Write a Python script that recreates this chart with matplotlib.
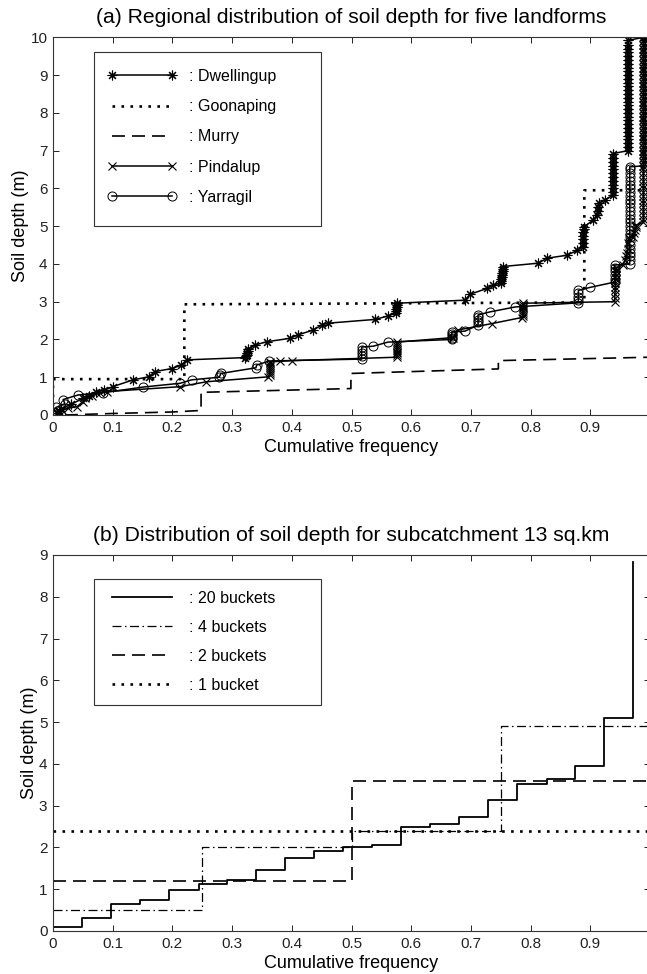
import numpy as np
import matplotlib
matplotlib.use('Agg')
import matplotlib.pyplot as plt
from matplotlib.patches import Rectangle
from matplotlib.legend_handler import HandlerLine2D

plt.rcParams['font.family'] = ['Liberation Sans', 'DejaVu Sans']

# (a) cumulative frequency / soil depth pairs for each landform
dw_x = [0.006, 0.010, 0.014, 0.030, 0.050, 0.060, 0.072, 0.085, 0.100, 0.134,
        0.160, 0.171, 0.199, 0.215, 0.224,
        0.322, 0.324, 0.325, 0.325, 0.326, 0.327, 0.338, 0.358, 0.397, 0.410,
        0.436, 0.450, 0.460, 0.539, 0.561,
        0.574, 0.575, 0.575, 0.576, 0.576, 0.577,
        0.690, 0.699, 0.727, 0.737,
        0.751, 0.751, 0.751, 0.752, 0.752, 0.752, 0.753, 0.753, 0.753,
        0.813, 0.827, 0.861, 0.878,
        0.887, 0.887, 0.888, 0.888, 0.888, 0.889, 0.889,
        0.905, 0.911, 0.913, 0.913, 0.914, 0.925,
        0.938, 0.938, 0.938, 0.938, 0.938, 0.938, 0.938, 0.938, 0.938, 0.938,
        0.938, 0.938,
        0.963, 0.963, 0.963, 0.963, 0.963, 0.963, 0.963, 0.963, 0.963, 0.963,
        0.963, 0.963, 0.963, 0.963, 0.963, 0.963, 0.963, 0.963, 0.963, 0.963,
        0.963, 0.963, 0.963, 0.963, 0.963, 0.963, 0.963, 0.963, 0.963, 0.963,
        0.990]
dw_y = [0.05, 0.10, 0.17, 0.28, 0.44, 0.50, 0.61, 0.65, 0.75, 0.93,
        1.01, 1.15, 1.23, 1.32, 1.46,
        1.52, 1.56, 1.60, 1.65, 1.70, 1.75, 1.85, 1.94, 2.03, 2.12,
        2.25, 2.38, 2.43, 2.53, 2.62,
        2.70, 2.75, 2.80, 2.85, 2.90, 2.96,
        3.04, 3.20, 3.35, 3.44,
        3.50, 3.55, 3.60, 3.65, 3.70, 3.75, 3.80, 3.86, 3.93,
        4.02, 4.15, 4.23, 4.36,
        4.45, 4.55, 4.65, 4.75, 4.85, 4.92, 4.98,
        5.16, 5.30, 5.40, 5.50, 5.60, 5.70,
        5.82, 5.90, 6.00, 6.10, 6.20, 6.30, 6.40, 6.50, 6.60, 6.70,
        6.80, 6.92,
        7.00, 7.10, 7.20, 7.30, 7.40, 7.50, 7.60, 7.70, 7.80, 7.90,
        8.00, 8.10, 8.20, 8.30, 8.40, 8.50, 8.60, 8.70, 8.80, 8.90,
        9.00, 9.10, 9.20, 9.30, 9.40, 9.50, 9.60, 9.70, 9.80, 9.92,
        10.0]

go_x = [0.0, 0.0, 0.22, 0.22, 0.89, 0.89, 1.0]
go_y = [0.0, 0.95, 0.95, 2.93, 2.98, 5.95, 5.95]

mu_x = [0.02, 0.10, 0.20, 0.248, 0.248, 0.499, 0.499, 0.746, 0.746, 1.0]
mu_y = [0.00, 0.04, 0.08, 0.12, 0.60, 0.70, 1.10, 1.22, 1.44, 1.53]

pi_x = [0.012, 0.012, 0.015, 0.025, 0.040, 0.050, 0.054, 0.065, 0.079, 0.090,
        0.213, 0.257, 0.360,
        0.363, 0.363, 0.363, 0.363, 0.363, 0.363, 0.363, 0.363,
        0.380, 0.400,
        0.576, 0.576, 0.576, 0.576, 0.576, 0.576, 0.576, 0.576, 0.576,
        0.670, 0.678, 0.735, 0.785,
        0.787, 0.787, 0.787, 0.787, 0.787, 0.787, 0.787, 0.787,
        0.941, 0.941, 0.941, 0.942, 0.942, 0.942, 0.943, 0.943, 0.943, 0.943,
        0.955, 0.958, 0.960, 0.962, 0.963, 0.963, 0.964,
        0.972, 0.974, 0.975, 0.977, 0.977,
        0.989, 0.989, 0.989, 0.989, 0.989, 0.989, 0.989, 0.989, 0.989, 0.989,
        0.989, 0.989, 0.989, 0.989, 0.989, 0.989, 0.989, 0.989, 0.989, 0.989,
        0.989, 0.989, 0.989, 0.989, 0.989, 0.989, 0.989, 0.989, 0.989, 0.989,
        0.989, 0.989, 0.989, 0.989, 0.989, 0.989, 0.989, 0.989, 0.989, 0.989,
        0.989, 0.989, 0.989, 0.989, 0.989, 0.989, 0.989, 0.989, 0.989, 0.989]
pi_y = [0.00, 0.05, 0.12, 0.18, 0.22, 0.35, 0.44, 0.50, 0.59, 0.62,
        0.75, 0.88, 1.01,
        1.05, 1.10, 1.16, 1.22, 1.28, 1.33, 1.37, 1.41,
        1.42, 1.44,
        1.53, 1.58, 1.63, 1.68, 1.73, 1.78, 1.83, 1.88, 1.93,
        2.05, 2.25, 2.42, 2.58,
        2.62, 2.67, 2.72, 2.77, 2.82, 2.87, 2.92, 2.96,
        3.00, 3.10, 3.20, 3.30, 3.40, 3.50, 3.60, 3.70, 3.80, 3.90,
        3.97, 4.10, 4.20, 4.30, 4.40, 4.55, 4.68,
        4.72, 4.82, 4.90, 4.97, 5.03,
        5.10, 5.20, 5.30, 5.40, 5.50, 5.60, 5.70, 5.80, 5.90, 6.00,
        6.10, 6.20, 6.30, 6.40, 6.50, 6.60, 6.70, 6.80, 6.90, 7.00,
        7.10, 7.20, 7.30, 7.40, 7.50, 7.60, 7.70, 7.80, 7.90, 8.00,
        8.10, 8.20, 8.30, 8.40, 8.50, 8.60, 8.70, 8.80, 8.90, 9.00,
        9.10, 9.20, 9.30, 9.40, 9.50, 9.60, 9.70, 9.80, 9.90, 10.0]

ya_x = [0.000, 0.000, 0.005, 0.020, 0.017, 0.042, 0.084, 0.151, 0.213, 0.232,
        0.278, 0.280, 0.281,
        0.340, 0.341, 0.362,
        0.517, 0.517, 0.517, 0.517, 0.517,
        0.536, 0.561,
        0.668, 0.668, 0.668, 0.668, 0.668,
        0.690,
        0.712, 0.712, 0.712, 0.712, 0.712,
        0.732, 0.774,
        0.880, 0.880, 0.880, 0.880, 0.880,
        0.900, 0.941,
        0.941, 0.941, 0.941, 0.941, 0.941,
        0.966, 0.966, 0.966, 0.966, 0.966, 0.966, 0.966, 0.966, 0.966, 0.966,
        0.966, 0.966, 0.966, 0.966, 0.966, 0.966, 0.966, 0.966, 0.966, 0.966,
        0.966, 0.966, 0.966, 0.966, 0.966, 0.966, 0.966,
        0.992, 0.992, 0.992, 0.992, 0.992, 0.992, 0.992, 0.992, 0.992, 0.992,
        0.992, 0.992, 0.992, 0.992, 0.992, 0.992, 0.992, 0.992, 0.992, 0.992,
        0.992, 0.992, 0.992, 0.992, 0.992, 0.992, 0.992, 0.992, 0.992, 0.992,
        0.992, 0.992, 0.992, 0.992, 0.992]
ya_y = [0.02, 0.09, 0.20, 0.30, 0.41, 0.53, 0.59, 0.74, 0.84, 0.93,
        1.00, 1.05, 1.10,
        1.25, 1.32, 1.43,
        1.48, 1.56, 1.64, 1.72, 1.80,
        1.82, 1.93,
        2.00, 2.05, 2.10, 2.15, 2.20,
        2.22,
        2.38, 2.45, 2.52, 2.59, 2.65,
        2.73, 2.86,
        2.97, 3.05, 3.13, 3.22, 3.30,
        3.38, 3.52,
        3.60, 3.70, 3.80, 3.90, 3.97,
        4.00, 4.10, 4.20, 4.30, 4.40, 4.50, 4.60, 4.70, 4.80, 4.90,
        5.00, 5.10, 5.20, 5.30, 5.40, 5.50, 5.60, 5.70, 5.80, 5.90,
        6.00, 6.10, 6.20, 6.30, 6.40, 6.50, 6.57,
        6.60, 6.70, 6.80, 6.90, 7.00, 7.10, 7.20, 7.30, 7.40, 7.50,
        7.60, 7.70, 7.80, 7.90, 8.00, 8.10, 8.20, 8.30, 8.40, 8.50,
        8.60, 8.70, 8.80, 8.90, 9.00, 9.10, 9.20, 9.30, 9.40, 9.50,
        9.60, 9.70, 9.80, 9.90, 10.0]

# (b) bucket approximations for the 13 sq.km subcatchment (step edges / depths)
b20_x = [0.0, 0.049, 0.097, 0.146, 0.195, 0.244, 0.291, 0.340, 0.389, 0.438,
         0.485, 0.534, 0.583, 0.632, 0.680, 0.729, 0.778, 0.827, 0.874, 0.923,
         0.972]
b20_y = [0.10, 0.30, 0.64, 0.74, 0.97, 1.12, 1.22, 1.46, 1.74, 1.92,
         2.02, 2.06, 2.50, 2.56, 2.72, 3.13, 3.52, 3.63, 3.95, 5.09,
         8.84]
b4_x = [0.0, 0.25, 0.5, 0.75, 1.0]
b4_y = [0.5, 2.0, 2.4, 4.9, 4.9]
b2_x = [0.0, 0.5, 1.0]
b2_y = [1.2, 3.6, 3.6]
b1_x = [0.0, 1.0]
b1_y = [2.4, 2.4]

xticks = [0, 0.1, 0.2, 0.3, 0.4, 0.5, 0.6, 0.7, 0.8, 0.9, 1]
xticklabels = ['0', '0.1', '0.2', '0.3', '0.4', '0.5', '0.6', '0.7', '0.8', '0.9', '1']

DOT = (0, (1, 2.4))
DASH = (0, (7.8, 4.2))
DASHDOT = (0, (7.2, 2.8, 1.2, 2.8))
K = 'black'


def setup_axes(ax, ymax, title):
    ax.set_xlim(0, 1)
    ax.set_ylim(0, ymax)
    ax.set_xticks(xticks)
    ax.set_xticklabels(xticklabels)
    ax.set_yticks(range(ymax + 1))
    ax.tick_params(direction='in', top=True, right=True, length=4.5, width=0.7,
                   labelsize=11, pad=4, colors='#222222')
    for s in ax.spines.values():
        s.set_linewidth(0.8)
        s.set_color('#333333')
    ax.set_title(title, fontsize=15.2, pad=10)
    ax.set_xlabel('Cumulative frequency', fontsize=13, labelpad=3)
    ax.set_ylabel('Soil depth (m)', fontsize=13, labelpad=1)


def legend_box(ax, x0, y0, w, h):
    ax.add_patch(Rectangle((x0, y0), w, h, transform=ax.transAxes, facecolor='white',
                           edgecolor='#333333', lw=0.8, zorder=4))


fig = plt.figure(figsize=(6.47, 9.74), dpi=100)
ax1 = fig.add_axes([53 / 647, 559 / 974, 597 / 647, 377.7 / 974])
ax2 = fig.add_axes([53 / 647, 43 / 974, 597 / 647, 376 / 974])

# ---- panel (a)
l1, = ax1.plot(dw_x, dw_y, '-', color=K, lw=1.1, marker=(8, 2, 0), ms=7, mew=0.8,
               label=': Dwellingup')
l2, = ax1.plot(go_x, go_y, color=K, lw=1.9, ls=DOT, label=': Goonaping')
l3, = ax1.plot(mu_x, mu_y, color=K, lw=1.2, ls=DASH, label=': Murry')
l4, = ax1.plot(pi_x, pi_y, '-', color=K, lw=1.1, marker='x', ms=5.5, mew=0.8,
               label=': Pindalup')
l5, = ax1.plot(ya_x, ya_y, '-', color=K, lw=1.1, marker='o', ms=6.5, mew=0.7,
               mfc='none', label=': Yarragil')
setup_axes(ax1, 10, '(a) Regional distribution of soil depth for five landforms')

legend_box(ax1, 0.0687, 0.5004, 0.3802, 0.4607)
hm = {l: HandlerLine2D(marker_pad=0.0, numpoints=2) for l in (l1, l4, l5)}
leg1 = ax1.legend(handles=[l1, l2, l3, l4, l5], loc='upper left',
                  bbox_to_anchor=(0.0988, 0.916), frameon=False, fontsize=11.5,
                  borderpad=0, borderaxespad=0, handlelength=3.75, handletextpad=1.05,
                  labelspacing=0.95, handler_map=hm)
leg1.set_zorder(5)

# ---- panel (b)
m1, = ax2.plot(b20_x, b20_y, color=K, lw=1.3, drawstyle='steps-post', label=': 20 buckets')
m2, = ax2.plot(b4_x, b4_y, color=K, lw=0.9, ls=DASHDOT, drawstyle='steps-post',
               label=': 4 buckets')
m3, = ax2.plot(b2_x, b2_y, color=K, lw=1.2, ls=DASH, drawstyle='steps-post',
               label=': 2 buckets')
m4, = ax2.plot(b1_x, b1_y, color=K, lw=1.9, ls=DOT, label=': 1 bucket')
setup_axes(ax2, 9, '(b) Distribution of soil depth for subcatchment 13 sq.km')

legend_box(ax2, 0.0687, 0.601, 0.3802, 0.335)
leg2 = ax2.legend(handles=[m1, m2, m3, m4], loc='upper left',
                  bbox_to_anchor=(0.0988, 0.905), frameon=False, fontsize=11.5,
                  borderpad=0, borderaxespad=0, handlelength=3.75, handletextpad=1.05,
                  labelspacing=0.88)
leg2.set_zorder(5)

fig.savefig('out.png', dpi=100, facecolor='white')
